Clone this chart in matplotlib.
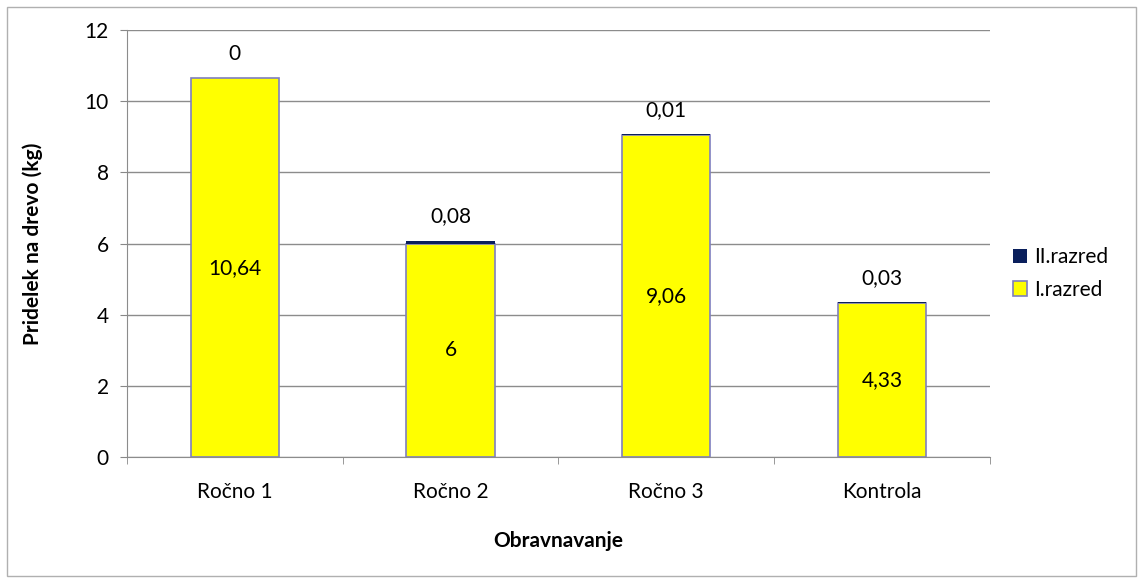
import numpy as np
import matplotlib as mpl
mpl.use('Agg')
import matplotlib.pyplot as plt
from matplotlib.patches import Rectangle

# data
kategorije = ["Ročno 1", "Ročno 2", "Ročno 3", "Kontrola"]
razred1 = [10.64, 6.0, 9.06, 4.33]
razred2 = [0.0, 0.08, 0.01, 0.03]
oznake1 = ["10,64", "6", "9,06", "4,33"]
oznake2 = ["0", "0,08", "0,01", "0,03"]

plt.rcParams['font.family'] = ['Lato', 'DejaVu Sans']
FS = 15

fig = plt.figure(figsize=(11.43, 5.83), dpi=100)
fig.patches.append(Rectangle((0.006, 0.012), 0.988, 0.976, transform=fig.transFigure,
                             fill=False, edgecolor='#b0b0b0', linewidth=1.0))
ax = fig.add_axes([0.111, 0.216, 0.755, 0.7325])

x = np.arange(len(kategorije))
w = 0.41
b1 = ax.bar(x, razred1, w, color='#ffff00', edgecolor='#7f7fbf', linewidth=1.2,
            label='I.razred', zorder=3)
b2 = ax.bar(x, razred2, w, bottom=razred1, color='#0a1f5c', edgecolor='none',
            linewidth=0, label='II.razred', zorder=3)

for i in range(len(x)):
    ax.text(x[i], razred1[i] / 2, oznake1[i], ha='center', va='center', fontsize=FS, zorder=4)
    ax.text(x[i], razred1[i] + razred2[i] + 0.4, oznake2[i], ha='center', va='bottom',
            fontsize=FS, zorder=4)

ax.set_xlim(-0.5, len(x) - 0.5)
ax.set_ylim(0, 12)
ax.set_yticks(np.arange(0, 13, 2))
ax.set_xticks(x)
ax.set_xticklabels(kategorije, fontsize=FS)
ax.set_xticks(np.arange(-0.5, len(x), 1), minor=True)
ax.tick_params(axis='x', which='major', length=0, pad=18)
ax.tick_params(axis='x', which='minor', length=5, color='#888888', direction='out')
ax.tick_params(axis='y', length=5, color='#888888', labelsize=FS, pad=8)

ax.yaxis.grid(True, color='#8c8c8c', linewidth=1.0, zorder=0)
for s in ['top', 'right']:
    ax.spines[s].set_visible(False)
for s in ['left', 'bottom']:
    ax.spines[s].set_color('#8c8c8c')

ax.set_ylabel("Pridelek na drevo (kg)", fontsize=FS, fontweight='bold', labelpad=30)
ax.set_xlabel("Obravnavanje", fontsize=FS, fontweight='bold', labelpad=21)

h, l = ax.get_legend_handles_labels()
ax.legend(h[::-1], l[::-1], loc='center left', bbox_to_anchor=(1.005, 0.43), frameon=False,
          fontsize=FS, handlelength=0.7, handleheight=0.7, handletextpad=0.3, labelspacing=0.6)

plt.savefig("out.png", dpi=100)
